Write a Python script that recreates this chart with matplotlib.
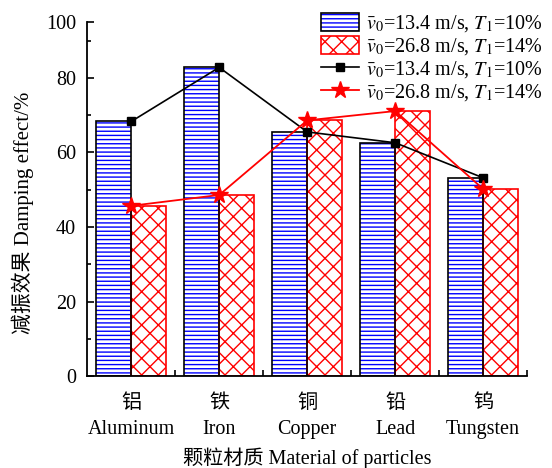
import numpy as np
import matplotlib
matplotlib.use("Agg")
import matplotlib.pyplot as plt
from matplotlib.patches import Patch
from matplotlib.lines import Line2D

plt.rcParams['font.family'] = ['Liberation Serif', 'Noto Sans CJK SC']
plt.rcParams['mathtext.fontset'] = 'stix'
plt.rcParams['hatch.linewidth'] = 1.0

# data
materials_cn = ['铝', '铁', '铜', '铅', '钨']
materials_en = ['Aluminum', 'Iron', 'Copper', 'Lead', 'Tungsten']
effect_v134 = [68.3, 82.8, 65.5, 62.6, 53.2]
effect_v268 = [45.7, 48.6, 68.6, 71.1, 50.2]

label_v134 = r'$\bar{v}_0$=13.4 m/s, $T_\mathrm{1}$=10%'
label_v268 = r'$\bar{v}_0$=26.8 m/s, $T_\mathrm{1}$=14%'

x = np.arange(len(materials_cn)) + 0.5
w = 0.4

fig = plt.figure(figsize=(5.52, 4.68), dpi=100)
ax = fig.add_axes([0.158, 0.196, 0.797, 0.758])

# blue bars: hatch in blue, outline in black
ax.bar(x - w / 2, effect_v134, w, color='white', edgecolor='#0000ff',
       hatch='----', linewidth=0, zorder=2)
ax.bar(x - w / 2, effect_v134, w, fill=False, edgecolor='black',
       linewidth=1.2, zorder=3)
# red cross-hatched bars
ax.bar(x + w / 2, effect_v268, w, color='white', edgecolor='red',
       hatch='xx', linewidth=1.2, zorder=2)

ax.plot(x, effect_v134, color='black', lw=1.2, marker='s', ms=6, zorder=5)
ax.plot(x, effect_v268, color='red', lw=1.3, marker='*', ms=13, zorder=5)

# axis top sits just above 95, labelled 100
y_top = 95.1
ax.set_xlim(0, 5)
ax.set_ylim(0, y_top)
ax.set_yticks([0, 20, 40, 60, 80, y_top])
ax.set_yticklabels(['0', '20', '40', '60', '80', '100'])
ax.set_yticks([10, 30, 50, 70, 90], minor=True)
ax.set_xticks(x)
ax.set_xticklabels([c + '\n' + e for c, e in zip(materials_cn, materials_en)],
                   linespacing=1.5)
ax.set_xticks([1, 2, 3, 4, 5], minor=True)

ax.tick_params(axis='y', which='major', direction='in', length=5, width=1.2,
               labelsize=14.5, pad=8)
ax.tick_params(axis='y', which='minor', direction='in', length=3, width=1.2)
ax.tick_params(axis='x', which='major', length=0, labelsize=14.5, pad=13)
ax.tick_params(axis='x', which='minor', direction='in', length=4, width=1.2)

for s in ['top', 'right']:
    ax.spines[s].set_visible(False)
for s in ['left', 'bottom']:
    ax.spines[s].set_linewidth(1.3)

ax.set_ylabel('减振效果 Damping effect/%', fontsize=15)
ax.yaxis.set_label_coords(-0.12, 0.46)
ax.set_xlabel('颗粒材质 Material of particles', fontsize=14.5, labelpad=6)

handles = [
    Patch(facecolor='white', edgecolor='#0000ff', hatch='----', linewidth=0),
    Patch(facecolor='white', edgecolor='red', hatch='xx', linewidth=1.2),
    Line2D([], [], color='black', lw=1.2, marker='s', ms=6),
    Line2D([], [], color='red', lw=1.3, marker='*', ms=13),
]
leg = fig.legend(handles, [label_v134, label_v268, label_v134, label_v268],
                 loc='upper right', bbox_to_anchor=(1.005, 0.998),
                 frameon=False, fontsize=14.5, handlelength=1.9,
                 handleheight=1.0, handletextpad=0.35, labelspacing=0.08,
                 borderaxespad=0.2)

# black outline around the blue legend patch
fig.canvas.draw()
h0 = leg.legend_handles[0]
bb = h0.get_window_extent()
inv = fig.transFigure.inverted()
(x0, y0), (x1, y1) = inv.transform([[bb.x0, bb.y0], [bb.x1, bb.y1]])
fig.patches.append(plt.Rectangle((x0, y0), x1 - x0, y1 - y0, fill=False,
                                 edgecolor='black', lw=1.2,
                                 transform=fig.transFigure, zorder=10))

fig.savefig('out.png', dpi=100)
